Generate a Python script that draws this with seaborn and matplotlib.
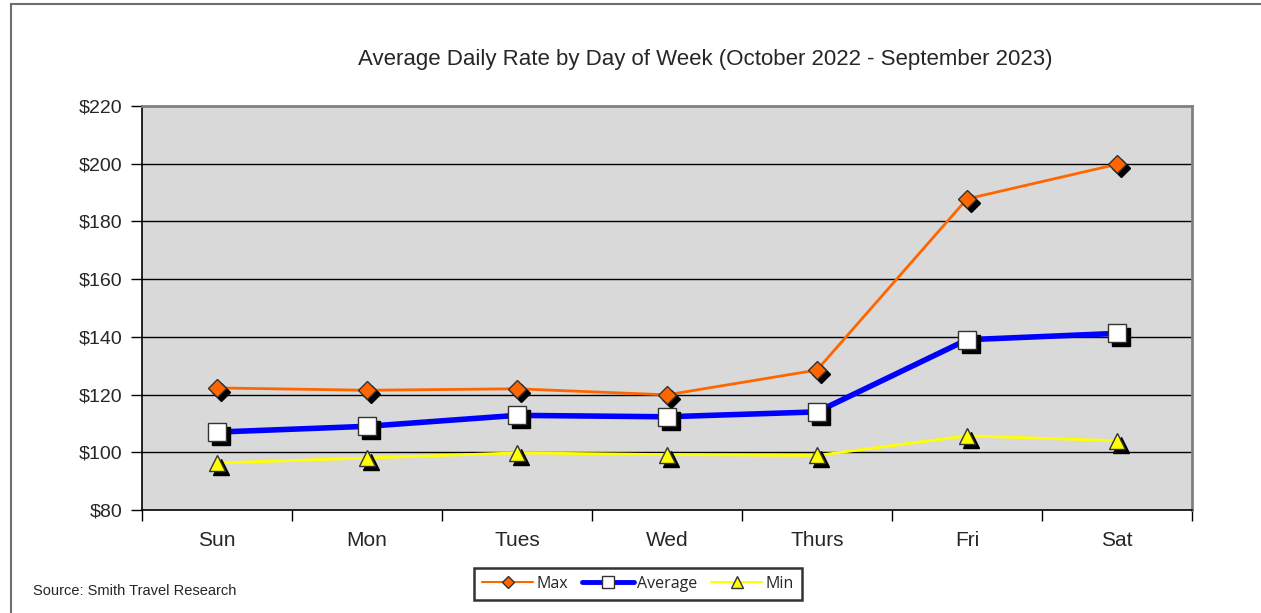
import matplotlib
matplotlib.use("Agg")
import matplotlib.pyplot as plt
import matplotlib.transforms as mtransforms
from matplotlib.lines import Line2D
from matplotlib.patches import Rectangle
import pandas as pd
import seaborn as sns

days = ["Sun", "Mon", "Tues", "Wed", "Thurs", "Fri", "Sat"]
max_rate = [122.3, 121.5, 122.0, 119.9, 128.5, 187.8, 199.8]
avg_rate = [107.0, 109.0, 112.8, 112.3, 114.0, 139.0, 141.2]
min_rate = [96.3, 98.0, 99.8, 99.2, 98.9, 105.7, 104.0]
y_ticks = [80, 100, 120, 140, 160, 180, 200, 220]

sns.set_theme(style="white")
plt.rcParams["font.family"] = ["Liberation Sans Narrow", "Liberation Sans", "DejaVu Sans"]

df = pd.DataFrame({"day": days, "pos": range(len(days)),
                   "Max": max_rate, "Average": avg_rate, "Min": min_rate})

fig = plt.figure(figsize=(12.61, 6.13), dpi=100)
ax = fig.add_axes([142 / 1261, 1 - 510 / 613, 1050 / 1261, 404 / 613])
ax.set_facecolor("#d9d9d9")

# outer chart frame
fig.patches.append(Rectangle((11 / 1261, -0.1), 1.2, 1 - 4 / 613 + 0.1,
                             transform=fig.transFigure, fill=False,
                             edgecolor="#6e6e6e", linewidth=1.5, zorder=0))

for y in y_ticks[1:-1]:
    ax.axhline(y, color="black", linewidth=1.0, zorder=1)

series = [
    ("Max", "#ff6600", 2.0, "D", 9, "#ff6600"),
    ("Average", "#0000ff", 4.0, "s", 13, "white"),
    ("Min", "#ffff00", 2.0, "^", 11, "#ffff00"),
]

shadow = mtransforms.offset_copy(ax.transData, fig=fig, x=4, y=-4, units="dots")
for name, col, lw, mk, ms, fc in series:
    sns.lineplot(data=df, x="pos", y=name, ax=ax, color=col, linewidth=lw,
                 marker=None, zorder=3, legend=False)
    ax.plot(df["pos"], df[name], linestyle="none", marker=mk, markersize=ms,
            markerfacecolor="black", markeredgecolor="black",
            transform=shadow, zorder=4)
    ax.plot(df["pos"], df[name], linestyle="none", marker=mk, markersize=ms,
            markerfacecolor=fc, markeredgecolor="#333333", markeredgewidth=1.0,
            zorder=5)

ax.set_xlim(-0.5, len(days) - 0.5)
ax.set_ylim(80, 220)
ax.set_yticks(y_ticks)
ax.set_yticklabels([f"${v}" for v in y_ticks], fontsize=14)
ax.set_xticks(range(len(days)))
ax.set_xticklabels(days, fontsize=15)
ax.set_xticks([i - 0.5 for i in range(len(days) + 1)], minor=True)
ax.tick_params(axis="x", which="major", length=0, pad=15)
ax.tick_params(axis="x", which="minor", length=8, width=1, color="black", direction="out", bottom=True)
ax.tick_params(axis="y", length=8, width=1, color="black", direction="out", left=True, pad=6)
ax.set_xlabel("")
ax.set_ylabel("")

for side in ("top", "right"):
    ax.spines[side].set_color("#808080")
    ax.spines[side].set_linewidth(2)
for side in ("left", "bottom"):
    ax.spines[side].set_color("black")
    ax.spines[side].set_linewidth(1.2)

fig.text(705 / 1261, 1 - 60 / 613, "Average Daily Rate by Day of Week (October 2022 - September 2023)",
         ha="center", va="center", fontsize=16)
fig.text(33 / 1261, 1 - 591 / 613, "Source: Smith Travel Research",
         ha="left", va="center", fontsize=10.5)

handles = [
    Line2D([], [], color="#ff6600", linewidth=1.5, marker="D", markersize=6,
           markerfacecolor="#ff6600", markeredgecolor="#333333"),
    Line2D([], [], color="#0000ff", linewidth=3.5, marker="s", markersize=8,
           markerfacecolor="white", markeredgecolor="#333333"),
    Line2D([], [], color="#ffff00", linewidth=1.5, marker="^", markersize=8,
           markerfacecolor="#ffff00", markeredgecolor="#333333"),
]
leg = fig.legend(handles, ["Max", "Average", "Min"], loc="center",
                 bbox_to_anchor=(638 / 1261, 1 - 584 / 613), ncol=3,
                 frameon=True, fancybox=False, handlelength=3.2,
                 columnspacing=0.9, handletextpad=0.2, borderpad=0.5,
                 borderaxespad=0.0,
                 prop={"family": ["Open Sans", "DejaVu Sans"], "size": 11.5})
leg.get_frame().set_edgecolor("black")
leg.get_frame().set_linewidth(1.8)

fig.savefig("out.png", dpi=100)
